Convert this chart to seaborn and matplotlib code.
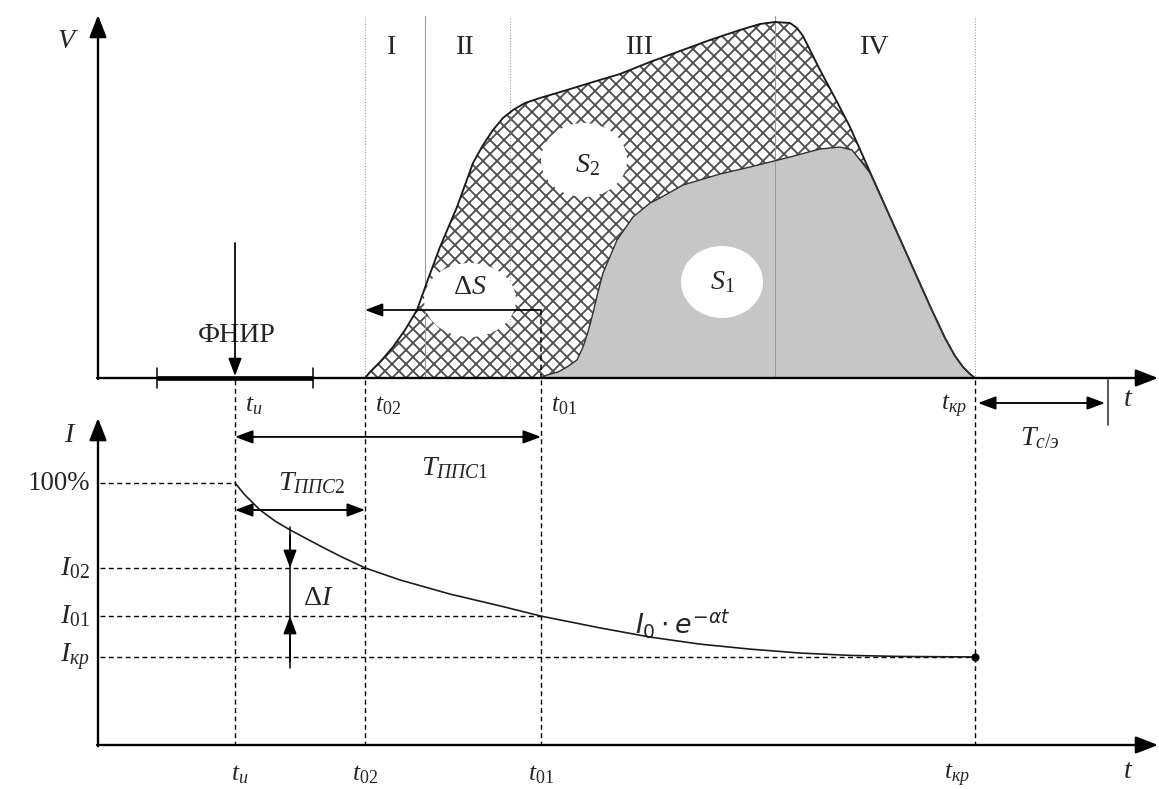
import numpy as np
import matplotlib
matplotlib.use('Agg')
import matplotlib.pyplot as plt
from matplotlib.patches import Ellipse
import seaborn as sns

#### #### #### #### #### #### #### #### #### #### #### #### #### #### ####
#### DATA

# time marks (horizontal units, shared by both panels)
t_origin = 98
t_end = 1158
t_i = 235
t_02 = 365
t_01 = 541
t_kr = 975
t_ce = 1108

# FNIR window on the time axis
fnir_start = 157
fnir_end = 313

# phases I-IV
phase_edges = [365, 425, 510, 775, 975]
phase_styles = [':', '-', ':', '-', ':']
phase_labels = ['I', 'II', 'III', 'IV']
phase_centers = [392, 465, 640, 875]

# upper envelope (S2)
t_s2 = [365, 370, 380, 393, 405, 417, 427, 440, 457, 473, 483, 493, 503, 513,
        525, 540, 567, 593, 620, 650, 680, 710, 740, 760, 775, 790, 797, 803,
        810, 820, 835, 850, 870, 900, 930, 945, 955, 963, 970, 975]
v_s2 = [0, 6, 16, 31, 48, 68, 96, 131, 171, 215, 233, 248, 260, 268,
        275, 280, 288, 296, 304, 316, 327, 338, 348, 354, 356, 355, 350, 342,
        328, 308, 280, 251, 206, 139, 72, 40, 22, 11, 4, 0]

# lower envelope (S1)
t_s1 = [541, 547, 558, 567, 577, 583, 588, 593, 598, 603, 617, 633, 650, 660,
        683, 720, 750, 790, 820, 840, 852, 860, 870, 900, 930, 945, 955, 963,
        970, 975]
v_s1 = [0, 3, 6, 11, 18, 31, 46, 65, 86, 105, 138, 161, 175, 180,
        193, 204, 211, 221, 229, 231, 228, 218, 205, 139, 72, 40, 22, 11,
        4, 0]
dS_level = 68

# current decay I0*e^(-at), percent
t_curve = [235, 245, 260, 275, 290, 320, 340, 365, 400, 450, 500, 541, 600,
           650, 700, 750, 800, 850, 900, 975]
i_curve = [100.0, 95.4, 89.7, 85.5, 82.1, 76.0, 72.1, 67.6, 63.0, 57.6, 53.1,
           49.2, 44.7, 41.2, 38.5, 36.6, 35.1, 34.2, 33.8, 33.6]
I_100 = 100.0
I_02 = 67.6
I_01 = 49.2
I_kr = 33.6
I_tpps1 = 117.6
I_tpps2 = 89.7

#### #### #### #### #### #### #### #### #### #### #### #### #### #### ####
#### PLOT

W, H, DPI = 1159, 789, 84
split = 400
I_SCALE = 2.62

sns.set_style("white")
plt.rcParams['font.family'] = ['Liberation Serif', 'DejaVu Serif']
plt.rcParams['mathtext.fontset'] = 'custom'
plt.rcParams['mathtext.rm'] = 'Liberation Serif'
plt.rcParams['mathtext.it'] = 'Liberation Serif:italic'
plt.rcParams['mathtext.bf'] = 'Liberation Serif:bold'
plt.rcParams['hatch.linewidth'] = 1.6

FS = 24

fig = plt.figure(figsize=(W / DPI, H / DPI), dpi=DPI)
ax_v = fig.add_axes([0, (H - split) / H, 1, split / H])
ax_i = fig.add_axes([0, 0, 1, (H - split) / H])
for ax in (ax_v, ax_i):
    ax.set_xlim(0, W)
    ax.axis('off')
ax_v.set_ylim(-(split - 378), 378)
ax_i.set_ylim(-(H - 745) / I_SCALE, (745 - split) / I_SCALE)

axis_arrow = dict(arrowstyle='-|>,head_length=0.9,head_width=0.35', color='k',
                  lw=2, shrinkA=0, shrinkB=0, mutation_scale=18)
small_arrow = dict(arrowstyle='-|>,head_length=0.8,head_width=0.3', color='k',
                   lw=1.5, shrinkA=0, shrinkB=0, mutation_scale=16)
double_arrow = dict(arrowstyle='<|-|>,head_length=0.8,head_width=0.3', color='k',
                    lw=1.6, shrinkA=0, shrinkB=0, mutation_scale=16)
dash = (0, (3.5, 2.5))

#### Top panel: V(t)

for x, ls in zip(phase_edges, phase_styles):
    ax_v.plot([x, x], [0, 362], color='#9a9a9a', lw=0.9, ls=ls, zorder=3.5)

for lab, xc in zip(phase_labels, phase_centers):
    ax_v.text(xc, 330, lab, fontsize=FS, ha='center', va='center', zorder=6)

ax_v.fill_between(t_s2, 0, v_s2, facecolor='white', edgecolor='#505050',
                  hatch='xx', lw=0, zorder=2)
ax_v.fill_between(t_s1, 0, v_s1, facecolor='#c6c6c6', edgecolor='none',
                  lw=0, zorder=3)

ax_v.add_patch(Ellipse((584, 218), 86, 74, facecolor='white', edgecolor='none', zorder=4))
ax_v.add_patch(Ellipse((470, 78), 92, 74, facecolor='white', edgecolor='none', zorder=4))
ax_v.add_patch(Ellipse((722, 96), 82, 72, facecolor='white', edgecolor='none', zorder=4))

sns.lineplot(x=t_s2, y=v_s2, ax=ax_v, color='#1a1a1a', lw=1.6, sort=False,
             estimator=None, zorder=5, solid_joinstyle='round')
sns.lineplot(x=t_s1, y=v_s1, ax=ax_v, color='#333333', lw=1.2, sort=False,
             estimator=None, zorder=5, solid_joinstyle='round')

ax_v.text(587, 213, r'$S_2$', fontsize=FS, ha='center', va='center', zorder=6)
ax_v.text(722, 96, r'$S_1$', fontsize=FS, ha='center', va='center', zorder=6)
ax_v.text(470, 90, r'$\Delta S$', fontsize=FS, ha='center', va='center', zorder=6)

ax_v.annotate('', xy=(t_02, dS_level), xytext=(t_01, dS_level),
              arrowprops=small_arrow, zorder=6)
ax_v.plot([t_01, t_01], [dS_level, 0], color='k', lw=1.3, ls=dash, zorder=6)

# axes
ax_v.annotate('', xy=(t_origin, 363), xytext=(t_origin, -1),
              arrowprops=axis_arrow, zorder=7)
ax_v.annotate('', xy=(t_end, 0), xytext=(t_origin - 1, 0),
              arrowprops=axis_arrow, zorder=7)
ax_v.text(68, 336, r'$V$', fontsize=FS, ha='center', va='center')
ax_v.text(1128, -22, r'$t$', fontsize=FS, ha='center', va='center')

# FNIR window
ax_v.plot([fnir_start, fnir_end], [0, 0], color='k', lw=4,
          solid_capstyle='butt', zorder=8)
for x in (fnir_start, fnir_end):
    ax_v.plot([x, x], [10, -10], color='k', lw=1.3, zorder=8, clip_on=False)
ax_v.annotate('', xy=(t_i, 2), xytext=(t_i, 135), arrowprops=small_arrow, zorder=8)
ax_v.text(237, 43, 'ФНИР', fontsize=FS, ha='center', va='center')

# time labels under top axis
ax_v.text(t_i + 10, -28, r'$t_и$', fontsize=FS - 2, ha='left', va='center')
ax_v.text(t_02 + 10, -28, r'$t_{02}$', fontsize=FS - 2, ha='left', va='center')
ax_v.text(t_01 + 10, -28, r'$t_{01}$', fontsize=FS - 2, ha='left', va='center')
ax_v.text(t_kr - 8, -28, r'$t_{кр}$', fontsize=FS - 2, ha='right', va='center')

# T c/e
ax_v.annotate('', xy=(t_kr + 3, -25), xytext=(t_ce - 3, -25),
              arrowprops=double_arrow, zorder=8, annotation_clip=False)
ax_v.plot([t_ce, t_ce], [-2, -47], color='#444444', lw=1.5, clip_on=False)
ax_v.text(1040, -60, r'$T_{с/э}$', fontsize=FS, ha='center', va='center')

#### Bottom panel: I(t)

for x in (t_i, t_02, t_01, t_kr):
    ax_i.plot([x, x], [139.3, 0], color='k', lw=1.2, ls=dash, clip_on=False, zorder=2)

for lvl, x in zip([I_100, I_02, I_01, I_kr], [t_i, t_02, t_01, t_kr]):
    ax_i.plot([t_origin + 2, x], [lvl, lvl], color='k', lw=1.2, ls=dash, zorder=2)

sns.lineplot(x=t_curve, y=i_curve, ax=ax_i, color='#1a1a1a', lw=1.4,
             sort=False, estimator=None, zorder=4, solid_joinstyle='round')
ax_i.plot([t_kr], [I_kr], 'o', color='k', ms=6, zorder=5)

ax_i.annotate('', xy=(t_origin, 124.8), xytext=(t_origin, -0.5),
              arrowprops=axis_arrow, zorder=7)
ax_i.annotate('', xy=(t_end, 0), xytext=(t_origin - 1, 0),
              arrowprops=axis_arrow, zorder=7)

ax_i.annotate('', xy=(t_01, I_tpps1), xytext=(t_i, I_tpps1),
              arrowprops=double_arrow, zorder=6)
ax_i.annotate('', xy=(t_02, I_tpps2), xytext=(t_i, I_tpps2),
              arrowprops=double_arrow, zorder=6)
ax_i.text(455, 105.7, r'$T_{ППС1}$', fontsize=FS, ha='center', va='center')
ax_i.text(312, 100, r'$T_{ППС2}$', fontsize=FS, ha='center', va='center')

# delta I
ax_i.plot([290, 290], [83.2, 29.4], color='k', lw=1.3, zorder=6)
ax_i.annotate('', xy=(290, I_02), xytext=(290, 80), arrowprops=small_arrow, zorder=6)
ax_i.annotate('', xy=(290, I_01), xytext=(290, 32), arrowprops=small_arrow, zorder=6)
ax_i.text(318, 56, r'$\Delta I$', fontsize=FS, ha='center', va='center')

ax_i.text(683, 46, r'$I_0 \cdot e^{-\alpha t}$', fontsize=FS - 1, ha='center',
          va='center', math_fontfamily='dejavusans')

# I axis labels
ax_i.text(70, 118, r'$I$', fontsize=FS, ha='center', va='center')
ax_i.text(90, I_100, '100%', fontsize=FS - 1, ha='right', va='center')
ax_i.text(90, I_02, r'$I_{02}$', fontsize=FS, ha='right', va='center')
ax_i.text(90, I_01, r'$I_{01}$', fontsize=FS, ha='right', va='center')
ax_i.text(90, I_kr, r'$I_{кр}$', fontsize=FS, ha='right', va='center')

# time labels under bottom axis
for x, lab in zip([t_i + 5, t_02, t_01, t_kr - 18],
                  [r'$t_и$', r'$t_{02}$', r'$t_{01}$', r'$t_{кр}$']):
    ax_i.text(x, -11.5, lab, fontsize=FS - 2, ha='center', va='center')
ax_i.text(1128, -10, r'$t$', fontsize=FS, ha='center', va='center')

fig.savefig('out.png', dpi=DPI, facecolor='white')
